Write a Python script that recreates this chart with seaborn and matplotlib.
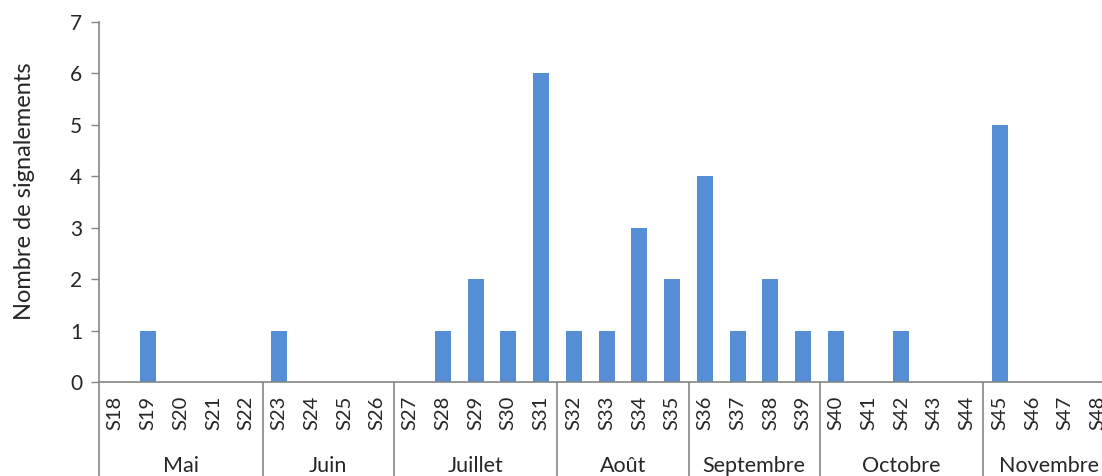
import matplotlib
matplotlib.use("Agg")
import matplotlib.pyplot as plt
import matplotlib.transforms as mtransforms
import seaborn as sns
import pandas as pd

weeks = [f"S{i}" for i in range(18, 49)]
values = [0, 1, 0, 0, 0, 1, 0, 0, 0, 0, 1, 2, 1, 6, 1, 1, 3, 2, 4, 1, 2, 1, 1, 0, 1, 0, 0, 5, 0, 0, 0]
months = ["Mai", "Juin", "Juillet", "Août", "Septembre", "Octobre", "Novembre"]
weeks_per_month = [5, 4, 5, 4, 4, 5, 4]
y_ticks = [0, 1, 2, 3, 4, 5, 6, 7]

sns.set_theme(style="white")
plt.rcParams['font.family'] = ['Lato', 'DejaVu Sans']

W, H = 1102, 476
fig = plt.figure(figsize=(W / 100, H / 100), dpi=100)
left_px, right_px, top_px, bot_px = 98.8, 1114.4, 22, 382
ax = fig.add_axes([left_px / W, (H - bot_px) / H, (right_px - left_px) / W, (bot_px - top_px) / H])

df = pd.DataFrame({"week": weeks, "n": values})
sns.barplot(data=df, x="week", y="n", color="#558ED5", saturation=1, width=0.49, ax=ax, linewidth=0)

gray = "#868686"
ax.set_xlim(-0.5, len(weeks) - 0.5)
ax.set_ylim(0, 7)
ax.set_yticks(y_ticks)
ax.tick_params(axis="y", direction="out", length=6, color=gray, width=1, labelsize=15, pad=6, left=True)
ax.tick_params(axis="x", length=0, labelsize=14.5, labelrotation=90, pad=10)
for lab in ax.get_xticklabels():
    lab.set_va("top")
for s in ["top", "right"]:
    ax.spines[s].set_visible(False)
for s in ["left", "bottom"]:
    ax.spines[s].set_color(gray)
    ax.spines[s].set_linewidth(1.2)
ax.set_xlabel("")
ax.set_ylabel("")
fig.text(25 / W, (H - 191) / H, "Nombre de signalements", rotation=90,
         ha="center", va="center", fontsize=17)

trans = mtransforms.blended_transform_factory(ax.transData, ax.transAxes)
axh = bot_px - top_px
line_bottom = -(H - bot_px) / axh
label_y = -(466 - bot_px) / axh
start = -0.5
for m, n in zip(months, weeks_per_month):
    ax.plot([start, start], [0, line_bottom], color=gray, lw=1.2, transform=trans, clip_on=False)
    ax.text(start + n / 2, label_y, m, transform=trans, ha="center", va="center", fontsize=15.5)
    start += n
ax.plot([start, start], [0, line_bottom], color=gray, lw=1.2, transform=trans, clip_on=False)

fig.savefig("out.png", dpi=100)
